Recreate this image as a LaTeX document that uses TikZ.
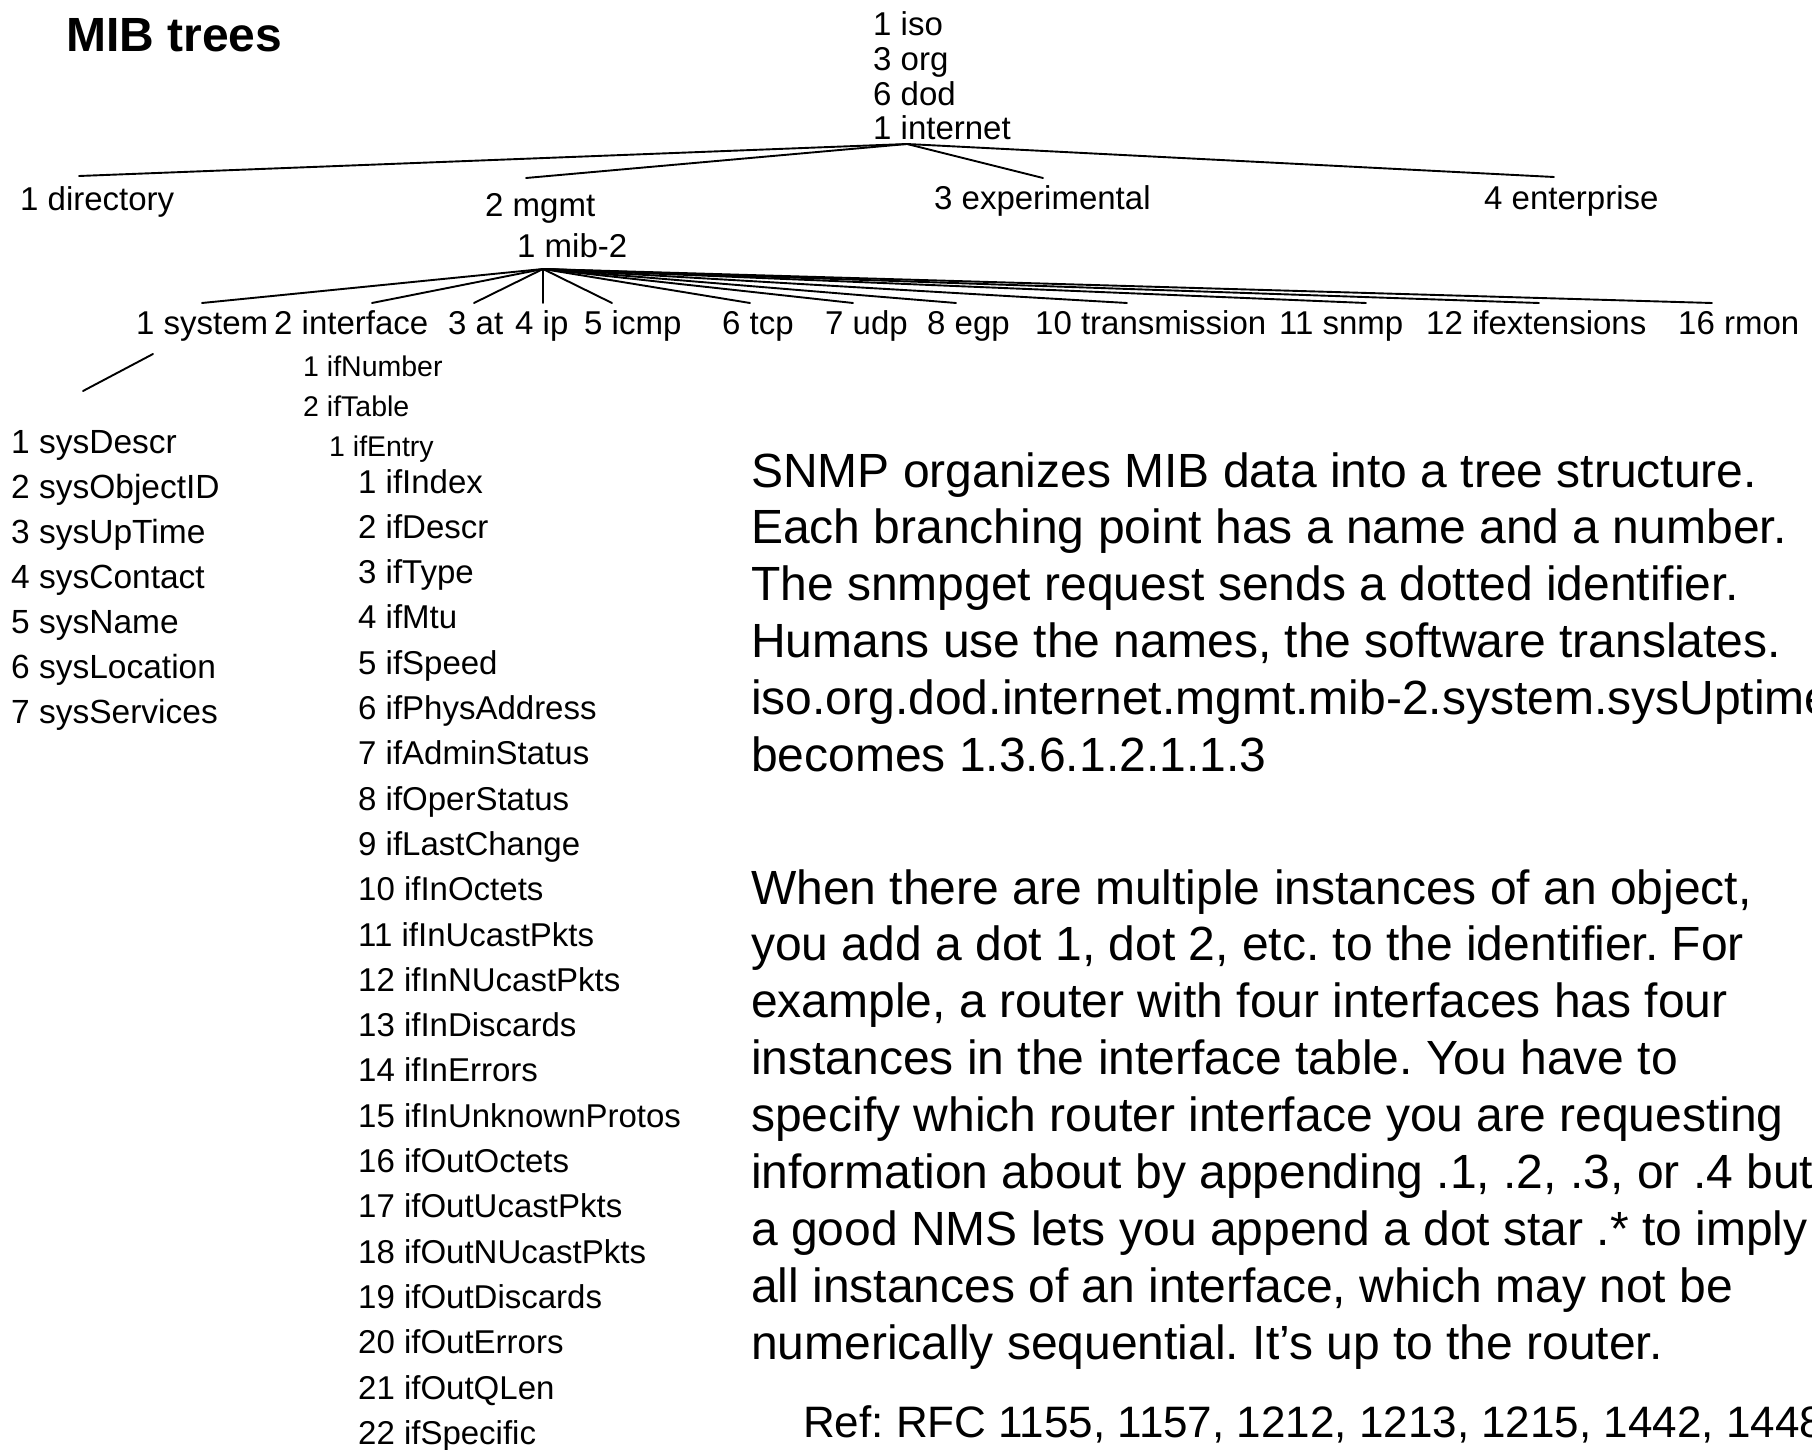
\documentclass[tikz,border=0pt]{standalone}
\usepackage{fontspec}
\setmainfont{Liberation Sans}
\begin{document}
\frenchspacing
\begin{tikzpicture}[x=1pt,y=-1pt,
  heading/.style={anchor=base west,inner sep=0pt,font=\fontsize{48}{48}\selectfont\bfseries},
  lbl/.style={anchor=base west,inner sep=0pt,font=\fontsize{33}{33}\selectfont},
  sublbl/.style={anchor=base west,inner sep=0pt,font=\fontsize{28.5}{28.5}\selectfont},
  sysleaf/.style={anchor=base west,inner sep=0pt,font=\fontsize{33.5}{33.5}\selectfont},
  leaf/.style={anchor=base west,inner sep=0pt,font=\fontsize{33}{33}\selectfont},
  para/.style={anchor=base west,inner sep=0pt,font=\fontsize{48}{48}\selectfont},
  refline/.style={anchor=base west,inner sep=0pt,font=\fontsize{44}{44}\selectfont},
  branch/.style={line width=1.9pt,line cap=round}]

\useasboundingbox (0,0) rectangle (1812,1450);
\clip (0,0) rectangle (1812,1450);
\fill[white] (0,0) rectangle (1812,1450);

% title
\node[heading] (title) at (66,52) {MIB trees};

% root path
\node[lbl] (iso) at (873,36) {1 iso};
\node[lbl] (org) at (873,71) {3 org};
\node[lbl] (dod) at (873,106) {6 dod};
\node[lbl] (internet) at (873,140) {1 internet};

% children of internet
\node[lbl] (directory) at (20,211) {1 directory};
\node[lbl] (mgmt) at (485,217) {2 mgmt};
\node[lbl] (experimental) at (934,210) {3 experimental};
\node[lbl] (enterprise) at (1484,210) {4 enterprise};
\node[lbl] (mib2) at (517,257) {1 mib-2};

% children of mib-2
\foreach \nd/\xx/\tx in {system/136/1 system, interface/274/2 interface, at/448/3 at,
    ip/515/4 ip, icmp/584/5 icmp, tcp/722/6 tcp, udp/825/7 udp, egp/927/8 egp,
    transmission/1035/10 transmission, snmp/1279/11 snmp,
    ifextensions/1426/12 ifextensions, rmon/1678/16 rmon}
  \node[lbl] (\nd) at (\xx,334) {\tx};

% system group
\foreach \nd [count=\i] in {sysDescr,sysObjectID,sysUpTime,sysContact,sysName,sysLocation,sysServices}
  \node[sysleaf] (\nd) at (11,{453+45*(\i-1)}) {\i\ \nd};

% interfaces group
\node[sublbl] (ifNumber) at (303,376) {1 ifNumber};
\node[sublbl] (ifTable) at (303,416) {2 ifTable};
\node[sublbl] (ifEntry) at (329,456) {1 ifEntry};
\foreach \nd [count=\i] in {ifIndex,ifDescr,ifType,ifMtu,ifSpeed,ifPhysAddress,
    ifAdminStatus,ifOperStatus,ifLastChange,ifInOctets,ifInUcastPkts,ifInNUcastPkts,
    ifInDiscards,ifInErrors,ifInUnknownProtos,ifOutOctets,ifOutUcastPkts,
    ifOutNUcastPkts,ifOutDiscards,ifOutErrors,ifOutQLen,ifSpecific}
  \node[leaf] (\nd) at (358,{493+45.3*(\i-1)}) {\i\ \nd};

% branch points and line ends
\coordinate (j-top) at ([shift={(34,4)}]internet.base west);
\foreach \nd/\dx/\dy in {directory/59/-35, mgmt/41/-39, experimental/109/-32, enterprise/70/-33}
  \coordinate (e-\nd) at ([shift={(\dx,\dy)}]\nd.base west);
\coordinate (j-mib) at ([shift={(26,12)}]mib2.base west);
\foreach \nd/\dx in {system/66, interface/98, at/26, ip/28, icmp/28, tcp/28, udp/28,
    egp/29, transmission/92, snmp/87, ifextensions/113, rmon/34}
  \coordinate (e-\nd) at ([shift={(\dx,-31)}]\nd.base west);
\coordinate (s-top) at ([shift={(17,20)}]system.base west);
\coordinate (s-end) at ([shift={(72,-62)}]sysDescr.base west);

% connectors
\foreach \nd in {directory,mgmt,experimental,enterprise}
  \draw[branch] (j-top) -- (e-\nd);
\foreach \nd in {system,interface,at,ip,icmp,tcp,udp,egp,transmission,snmp,ifextensions,rmon}
  \draw[branch] (j-mib) -- (e-\nd);
\draw[branch] (s-top) -- (s-end);

% explanation text
\foreach \t [count=\i] in {{SNMP organizes MIB data into a tree structure.},
    {Each branching point has a name and a number.},
    {The snmpget request sends a dotted identifier.},
    {Humans use the names, the software translates.},
    {iso.org.dod.internet.mgmt.mib-2.system.sysUptime},
    {becomes 1.3.6.1.2.1.1.3}}
  \node[para] (pa-\i) at (751,{487+56.9*(\i-1)}) {\t};

\foreach \t [count=\i] in {{When there are multiple instances of an object,},
    {you add a dot 1, dot 2, etc. to the identifier. For},
    {example, a router with four interfaces has four},
    {instances in the interface table. You have to},
    {specify which router interface you are requesting},
    {information about by appending .1, .2, .3, or .4 but},
    {a good NMS lets you append a dot star .* to imply},
    {all instances of an interface, which may not be},
    {numerically sequential. It’s up to the router.}}
  \node[para] (pb-\i) at (751,{904+56.9*(\i-1)}) {\t};

\node[refline] (ref) at (803,1437) {Ref: RFC 1155, 1157, 1212, 1213, 1215, 1442, 1448};
\end{tikzpicture}
\end{document}
